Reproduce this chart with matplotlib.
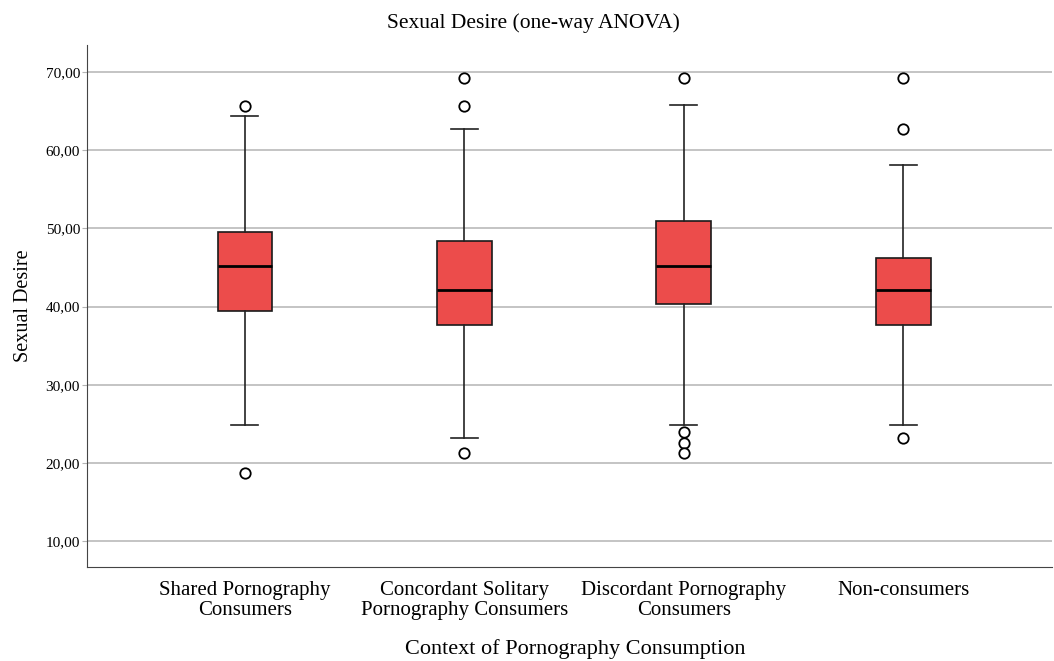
import matplotlib
matplotlib.use("Agg")
import matplotlib.pyplot as plt
from matplotlib.ticker import FuncFormatter

plt.rcParams['font.family'] = ['Liberation Serif', 'DejaVu Serif']

# box statistics
groups = ["Shared Pornography\nConsumers",
          "Concordant Solitary\nPornography Consumers",
          "Discordant Pornography\nConsumers",
          "Non-consumers"]
whisker_low = [24.84, 23.18, 24.84, 24.84]
q1 = [39.43, 37.63, 40.32, 37.63]
median = [45.18, 42.11, 45.18, 42.11]
q3 = [49.53, 48.38, 50.94, 46.20]
whisker_high = [64.37, 62.71, 65.78, 58.10]
outliers = [
    [65.65, 18.70],
    [69.23, 65.65, 21.26],
    [69.23, 23.95, 22.54, 21.26],
    [69.23, 62.71, 23.18],
]
yticks = [10, 20, 30, 40, 50, 60, 70]

stats = []
for i, name in enumerate(groups):
    stats.append({"label": name, "whislo": whisker_low[i], "q1": q1[i], "med": median[i],
                  "q3": q3[i], "whishi": whisker_high[i], "fliers": outliers[i]})

fig = plt.figure(figsize=(10.54, 6.61), dpi=100)
ax = fig.add_axes([0.0825, 0.142, 0.916, 0.79])

ax.bxp(stats, positions=range(1, len(groups) + 1), widths=0.25, capwidths=0.123,
       patch_artist=True,
       boxprops=dict(facecolor="#ec4c4b", edgecolor="#1a1a1a", linewidth=1.2),
       medianprops=dict(color="black", linewidth=2),
       whiskerprops=dict(color="#222222", linewidth=1.2),
       capprops=dict(color="#222222", linewidth=1.2),
       flierprops=dict(marker="o", markerfacecolor="white", markeredgecolor="black",
                       markersize=7.5, markeredgewidth=1.3),
       zorder=3)

ax.set_xlim(0.28, 4.68)
ax.set_ylim(6.68, 73.45)
ax.set_yticks(yticks)
ax.yaxis.set_major_formatter(FuncFormatter(lambda v, p: f"{v:.2f}".replace(".", ",")))
ax.yaxis.grid(True, color="#b4b4b4", linewidth=1.1, zorder=0)
ax.set_axisbelow(True)

for s in ["top", "right"]:
    ax.spines[s].set_visible(False)
ax.spines["left"].set_color("#444444")
ax.spines["bottom"].set_color("#444444")
ax.tick_params(axis="y", labelsize=11, length=3.5, pad=1.5, color="#b4b4b4")
ax.tick_params(axis="x", labelsize=15, length=0, pad=10)
for lab in ax.get_xticklabels():
    lab.set_linespacing(1.1)

ax.set_ylabel("Sexual Desire", fontsize=14.5)
ax.yaxis.set_label_coords(-0.056, 0.5)
ax.set_xlabel("Context of Pornography Consumption", fontsize=16)
ax.xaxis.set_label_coords(0.506, -0.137)
fig.text(0.506, 0.965, "Sexual Desire (one-way ANOVA)", fontsize=15.5,
         ha="center", va="center")

fig.savefig("out.png", dpi=100)
